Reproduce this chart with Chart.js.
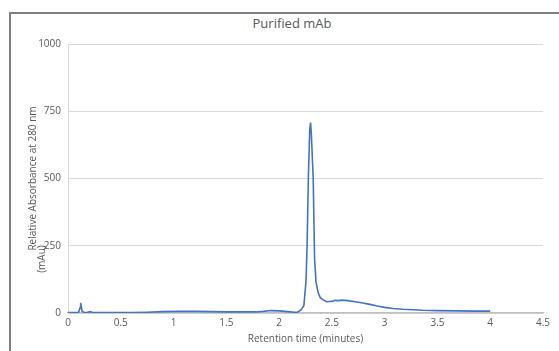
<!DOCTYPE html>
<html>
<head>
<meta charset="utf-8">
<script src="https://cdn.jsdelivr.net/npm/chart.js@4"></script>
<style>
  html, body { margin: 0; padding: 0; background: #fff; overflow: hidden; }
  body { width: 559px; height: 351px; position: relative; }
  #frame {
    position: absolute; left: 9px; top: 12px; width: 600px; height: 400px;
    border-left: 2px solid #7f7f7f; border-top: 2px solid #7f7f7f;
  }
  #title {
    position: absolute; left: 192px; width: 200px; top: 14px;
    text-align: center; font: 13px "Open Sans", sans-serif; color: #595959;
  }
  #wrap { position: absolute; left: 11px; top: 14px; width: 548px; height: 337px; }
</style>
</head>
<body>
<div id="frame"></div>
<div id="title">Purified mAb</div>
<div id="wrap"><canvas id="hplcChart"></canvas></div>
<script>
// retention time (minutes) and absorbance (mAu)
const times = [
  0.00, 0.08, 0.10, 0.115, 0.12, 0.125, 0.135, 0.15, 0.18, 0.21, 0.23, 0.26,
  0.40, 0.60, 0.75, 0.90, 1.05, 1.20, 1.35, 1.50, 1.65, 1.78, 1.85, 1.92,
  2.00, 2.08, 2.17, 2.21, 2.235, 2.255, 2.265, 2.277, 2.29, 2.298, 2.306,
  2.323, 2.336, 2.35, 2.37, 2.39, 2.42, 2.45, 2.48, 2.51, 2.53, 2.56, 2.59,
  2.62, 2.65, 2.68, 2.72, 2.78, 2.86, 2.93, 3.00, 3.08, 3.17, 3.27, 3.36,
  3.50, 3.70, 3.85, 4.00
];
const absorbance = [
  2, 2, 3, 20, 38, 25, 6, 3, 2, 5, 3, 2,
  2, 2, 3, 5, 6, 6, 5, 4, 4, 4, 6, 9,
  8, 5, 2, 12, 28, 120, 250, 500, 680, 708, 660,
  500, 200, 115, 75, 57, 48, 42, 43, 44, 47, 46, 48,
  47, 46, 44, 42, 38, 32, 26, 21, 17, 14, 12, 10,
  9, 8, 7, 7
];
const xTicks = [0, 0.5, 1, 1.5, 2, 2.5, 3, 3.5, 4, 4.5];
const yTicks = [0, 250, 500, 750, 1000];

const points = times.map((t, i) => ({ x: t, y: absorbance[i] }));
const labelFont = { family: 'Open Sans', size: 10 };

new Chart(document.getElementById('hplcChart'), {
  type: 'line',
  data: {
    datasets: [{
      label: 'Purified mAb',
      data: points,
      borderColor: '#4472C4',
      borderWidth: 1.6,
      pointRadius: 0,
      tension: 0,
      fill: false
    }]
  },
  options: {
    responsive: true,
    maintainAspectRatio: false,
    animation: false,
    layout: { padding: { top: 30, right: 16, left: 17, bottom: 6 } },
    plugins: { legend: { display: false }, tooltip: { enabled: false } },
    scales: {
      x: {
        type: 'linear',
        min: 0, max: 4.5,
        afterBuildTicks: (scale) => { scale.ticks = xTicks.map(v => ({ value: v })); },
        grid: { display: false, drawTicks: false },
        border: { color: '#bfbfbf', width: 1.5 },
        ticks: { color: '#595959', font: labelFont, padding: 4, maxRotation: 0,
                 callback: (v) => String(v) },
        title: {
          display: true, text: 'Retention time (minutes)',
          color: '#595959', font: labelFont, padding: { top: 0, bottom: 0 }
        }
      },
      y: {
        min: 0, max: 1000,
        afterBuildTicks: (scale) => { scale.ticks = yTicks.map(v => ({ value: v })); },
        afterFit: (scale) => { scale.width = 40; },
        grid: { color: '#d9d9d9', lineWidth: 1, drawTicks: false },
        border: { color: '#d9d9d9', width: 1 },
        ticks: { color: '#595959', font: labelFont, padding: 7,
                 callback: (v) => String(v) },
        title: {
          display: true,
          text: ['Relative Absorbance at 280 nm', '(mAu)' + ' '.repeat(62)],
          color: '#595959', font: { family: 'Open Sans', size: 10, lineHeight: 0.95 },
          padding: 0
        }
      }
    }
  }
});
</script>
</body>
</html>
